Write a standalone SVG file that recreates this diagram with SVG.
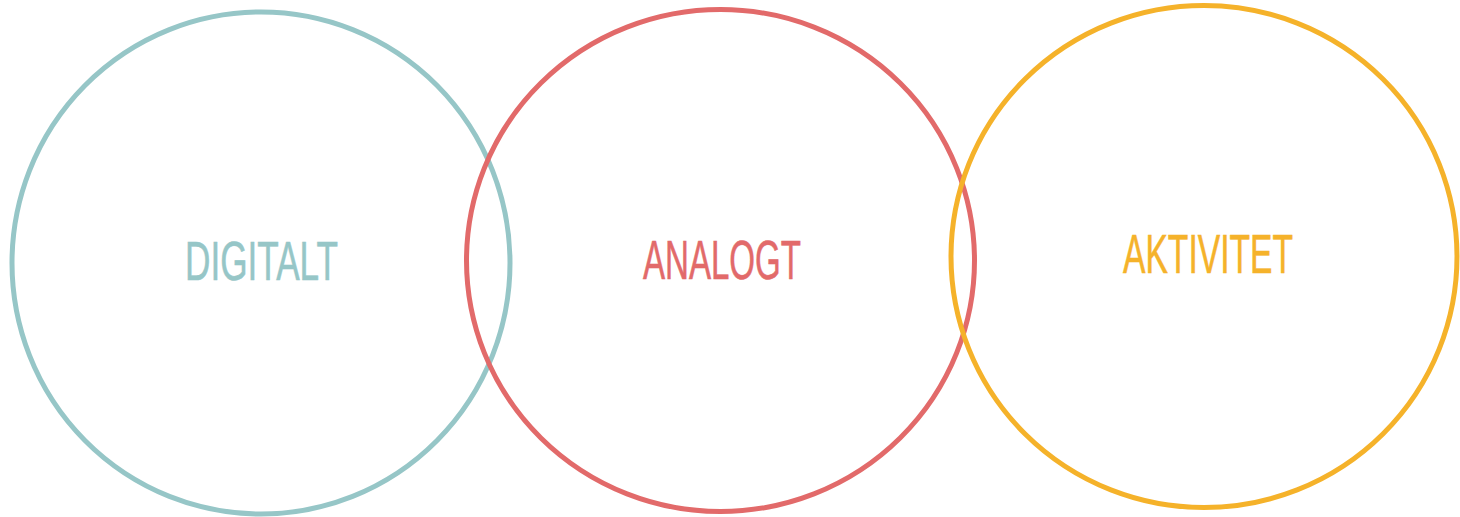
<svg xmlns="http://www.w3.org/2000/svg" width="1460" height="517" viewBox="0 0 1460 517">
<style>
.c{fill:none;stroke-width:5}
.t{font-family:"Liberation Sans",Arial,sans-serif;font-size:56px;stroke-width:0.6}
</style>
<rect width="1460" height="517" fill="#ffffff"/>
<g id="digitalt">
<ellipse class="c" cx="261" cy="263" rx="249" ry="251" stroke="#96C6C7"/>
<text class="t" x="185" y="280" textLength="153" lengthAdjust="spacingAndGlyphs" fill="#96C6C7" stroke="#96C6C7">DIGITALT</text>
</g>
<g id="analogt">
<ellipse class="c" cx="720.5" cy="260.5" rx="254" ry="251" stroke="#E26A6A"/>
<text class="t" x="643" y="279" textLength="158" lengthAdjust="spacingAndGlyphs" fill="#E26A6A" stroke="#E26A6A">ANALOGT</text>
</g>
<g id="aktivitet">
<ellipse class="c" cx="1204" cy="256.5" rx="253" ry="251" stroke="#F5B22A"/>
<text class="t" x="1123" y="273" textLength="170" lengthAdjust="spacingAndGlyphs" fill="#F5B22A" stroke="#F5B22A">AKTIVITET</text>
</g>
<g id="connectors"></g>
</svg>
